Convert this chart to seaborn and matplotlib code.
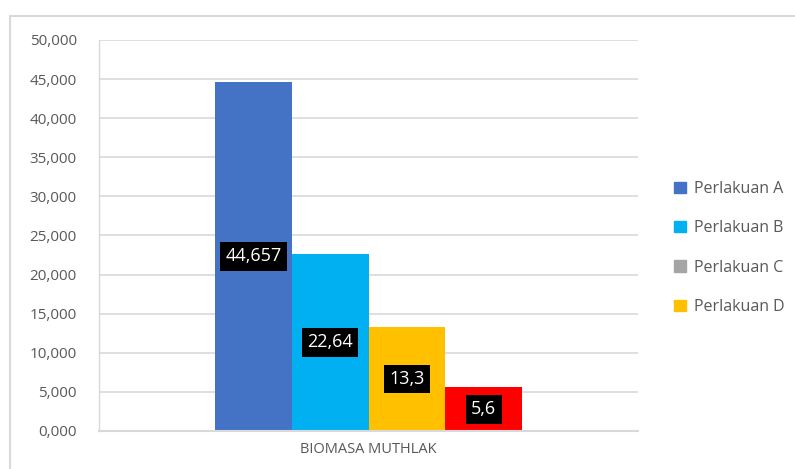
import matplotlib
matplotlib.use("Agg")
import matplotlib.pyplot as plt
import matplotlib.patches as mpatches
from matplotlib.lines import Line2D
import seaborn as sns
import pandas as pd

categories = ["BIOMASA MUTHLAK"] * 4
series = ["Perlakuan A", "Perlakuan B", "Perlakuan C", "Perlakuan D"]
values = [44.657, 22.64, 13.3, 5.6]
value_labels = ["44,657", "22,64", "13,3", "5,6"]
bar_colors = ["#4472C4", "#00B0F0", "#FFC000", "#FF0000"]
legend_colors = ["#4472C4", "#00B0F0", "#A5A5A5", "#FFC000"]
yticks = [0, 5, 10, 15, 20, 25, 30, 35, 40, 45, 50]
ytick_labels = ["0,000", "5,000", "10,000", "15,000", "20,000", "25,000",
                "30,000", "35,000", "40,000", "45,000", "50,000"]

sns.set_theme(style="white")
plt.rcParams["font.family"] = ["Open Sans", "DejaVu Sans"]

df = pd.DataFrame({"cat": categories, "series": series, "value": values})

fig = plt.figure(figsize=(7.95, 4.69), dpi=100)
ax = fig.add_axes([99 / 795, 1 - 431 / 469, (638 - 99) / 795, (431 - 40) / 469])

sns.barplot(data=df, x="cat", y="value", hue="series", palette=bar_colors,
            width=0.57, ax=ax, legend=False, saturation=1, errorbar=None)

for patch in ax.patches:
    patch.set_edgecolor("none")

ax.set_ylim(0, 50)
ax.set_xlim(-0.5, 0.5)
ax.set_yticks(yticks)
ax.set_yticklabels(ytick_labels, color="#595959", fontsize=11)
ax.tick_params(axis="y", length=0, pad=16)
ax.tick_params(axis="x", length=0, pad=8)
for lbl in ax.get_xticklabels():
    lbl.set_color("#595959")
    lbl.set_fontsize(10.5)
ax.set_xlabel("")
ax.set_ylabel("")
ax.grid(axis="y", color="#D9D9D9", linewidth=1.2)
ax.set_axisbelow(True)
for s in ["top", "right"]:
    ax.spines[s].set_visible(False)
ax.spines["left"].set_color("#D9D9D9")
ax.spines["left"].set_linewidth(1.0)
ax.spines["bottom"].set_color("#D9D9D9")
ax.spines["bottom"].set_linewidth(1.5)

bars = [p for p in ax.patches if p.get_height() > 0]
bars.sort(key=lambda p: p.get_x())
for p, lab in zip(bars, value_labels):
    ax.text(p.get_x() + p.get_width() / 2, p.get_height() / 2, lab,
            ha="center", va="center", color="white", fontsize=13,
            bbox=dict(boxstyle="square,pad=0.3", fc="black", ec="none"))

handles = [mpatches.Patch(color=c, label=s) for c, s in zip(legend_colors, series)]
fig.legend(handles=handles, loc="center left", bbox_to_anchor=(660 / 795, 1 - 248 / 469),
           frameon=False, fontsize=11.5, handlelength=0.7, handleheight=0.7,
           labelspacing=1.45, handletextpad=0.5, labelcolor="#595959")

fig.add_artist(Line2D([10 / 795, 1.0], [1 - 16 / 469, 1 - 16 / 469],
                      transform=fig.transFigure, color="#D9D9D9", linewidth=1.5))
fig.add_artist(Line2D([10 / 795, 10 / 795], [0, 1 - 16 / 469],
                      transform=fig.transFigure, color="#D9D9D9", linewidth=1.5))

fig.savefig("out.png", dpi=100)
